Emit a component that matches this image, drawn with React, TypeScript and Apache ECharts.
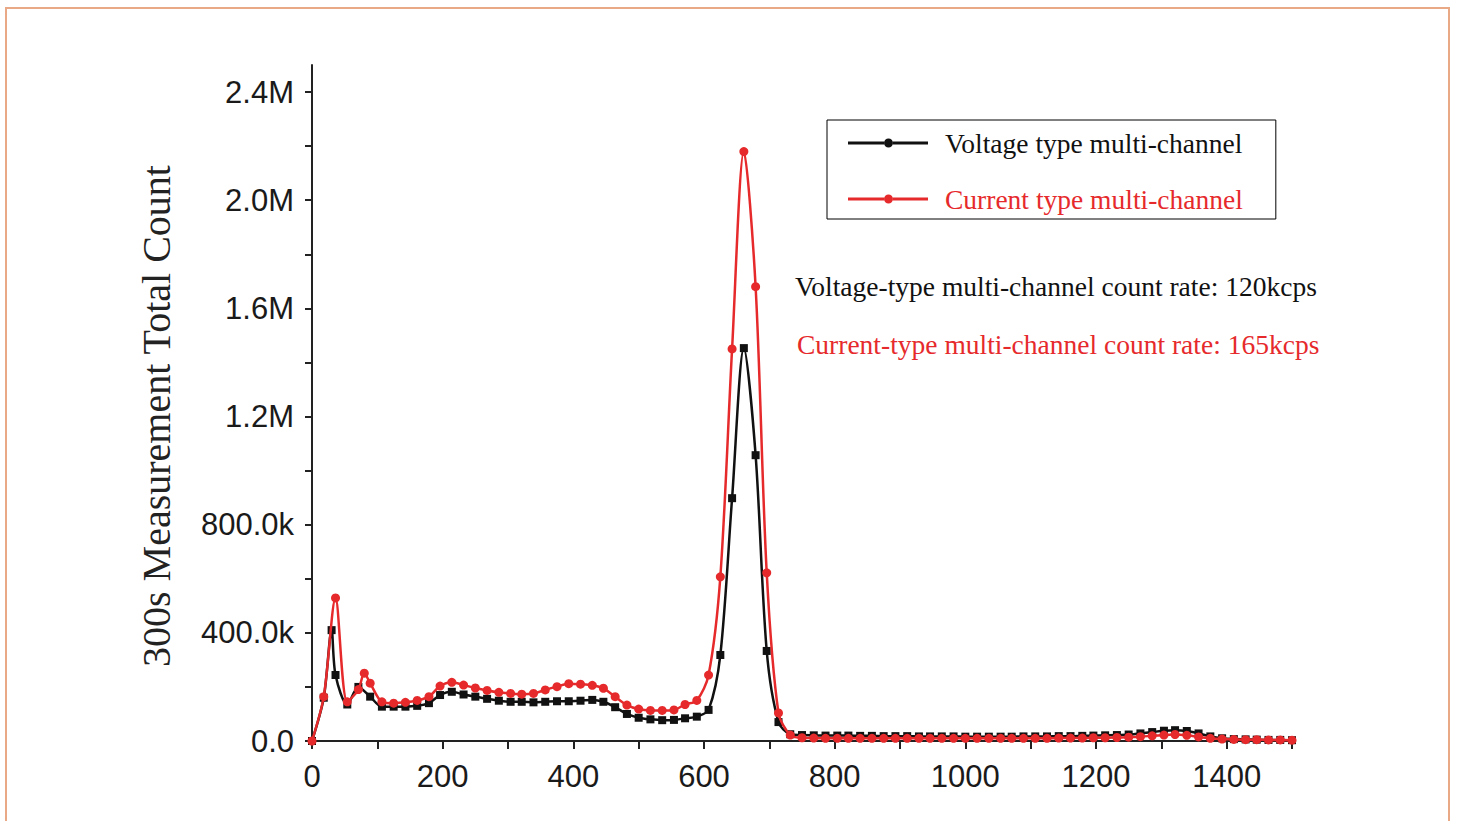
import React, { useEffect, useRef } from 'react';
import * as echarts from 'echarts';

// Channel positions (x) shared by both series
const channels = [
  0, 18, 30, 36, 54, 71, 80, 89,
  107, 125, 143, 161, 179, 196, 214, 232, 250, 268,
  286, 304, 321, 339, 357, 375, 393, 411, 429, 446,
  464, 482, 500, 518, 536, 554, 571, 589, 607, 625,
  643, 661, 679, 696, 714, 732,
  750, 768, 786, 804, 821, 839, 857, 875, 893, 911, 929, 946, 964, 982, 1000, 1018, 1036, 1054, 1071,
  1089, 1107, 1125, 1143, 1161, 1179, 1196, 1214, 1232, 1250, 1268, 1286, 1304, 1321, 1339, 1357, 1375, 1393, 1411, 1429, 1446, 1464, 1482, 1500,
];

// Counts in thousands (null = no sample for that series)
const voltageK: (number | null)[] = [
  0, 160, 410, 244, 135, 200, null, 164,
  127, 127, 127, 130, 140, 170, 182, 172, 164, 156,
  149, 145, 145, 143, 145, 147, 147, 149, 152, 145,
  125, 100, 86, 80, 77, 78, 84, 90, 115, 318,
  898, 1453, 1057, 333, 70, 25,
  22, 21, 20, 20, 20, 19, 19, 18, 18, 18, 17, 17, 17, 17, 16, 16, 16, 16, 16,
  17, 17, 17, 18, 18, 19, 20, 21, 22, 24, 28, 33, 38, 40, 37, 28, 17, 10, 7, 6, 5, 4, 4, 3,
];

const currentK: (number | null)[] = [
  0, 164, null, 529, 145, 190, 251, 214,
  145, 140, 143, 150, 164, 203, 217, 207, 196, 187,
  180, 176, 173, 176, 189, 201, 212, 210, 206, 195,
  164, 133, 118, 113, 113, 115, 135, 150, 244, 607,
  1450, 2180, 1680, 622, 104, 22,
  12, 11, 10, 10, 10, 10, 10, 10, 10, 10, 10, 10, 10, 10, 10, 10, 10, 10, 10,
  10, 10, 10, 11, 11, 11, 12, 12, 13, 14, 16, 19, 22, 24, 21, 15, 10, 7, 6, 5, 5, 4, 4, 3,
];

const xTickValues = [0, 100, 200, 300, 400, 500, 600, 700, 800, 900, 1000, 1100, 1200, 1300, 1400, 1500];
const xLabelValues = [0, 200, 400, 600, 800, 1000, 1200, 1400];
const yTickValues = [0, 200000, 400000, 600000, 800000, 1000000, 1200000, 1400000, 1600000, 1800000, 2000000, 2200000, 2400000];
const yLabelValues = [0, 400000, 800000, 1200000, 1600000, 2000000, 2400000];

const seriesNames = ['Voltage type multi-channel', 'Current type multi-channel'];
const notes = [
  'Voltage-type multi-channel count rate: 120kcps',
  'Current-type multi-channel count rate: 165kcps',
];
const yTitle = '300s Measurement Total Count';

const BLACK = '#111111';
const RED = '#e62a2c';
const SERIF = '"Times New Roman", "Liberation Serif", serif';
const SANS = '"Liberation Sans", Arial, sans-serif';

const legendIcon =
  'path://M0,9 L36,9 L36,12 L0,12 Z M45,9 L80,9 L80,12 L45,12 Z M36,10.5 A4.5,4.5 0 1 1 45,10.5 A4.5,4.5 0 1 1 36,10.5 Z';

function fmtY(v: number): string {
  if (v === 0) return '0.0';
  if (v < 1000000) return (v / 1000).toFixed(1) + 'k';
  return (v / 1000000).toFixed(1) + 'M';
}

export default function App() {
  const ref = useRef<HTMLDivElement>(null);
  useEffect(() => {
    if (!ref.current) return;
    const chart = echarts.init(ref.current, undefined, { renderer: 'svg' });
    const toData = (arr: (number | null)[]) =>
      channels.map((c, i) => [c, arr[i] == null ? '-' : (arr[i] as number) * 1000]);
    chart.setOption({
      animation: false,
      backgroundColor: '#ffffff',
      grid: { left: 312, right: 165, top: 65, bottom: 80, containLabel: false },
      xAxis: {
        type: 'value',
        min: 0,
        max: 1500,
        interval: 100,
        splitLine: { show: false },
        axisLine: { show: true, lineStyle: { color: '#222', width: 2 } },
        axisTick: { show: true, length: 8, lineStyle: { color: '#222', width: 2 }, customValues: xTickValues },
        axisLabel: {
          customValues: xLabelValues,
          margin: 20,
          fontFamily: SANS,
          fontSize: 31,
          color: '#1a1a1a',
          formatter: (v: number) => String(v),
        },
      },
      yAxis: {
        type: 'value',
        min: 0,
        max: 2500000,
        interval: 200000,
        splitLine: { show: false },
        axisLine: { show: true, lineStyle: { color: '#222', width: 2 } },
        axisTick: { show: true, length: 7, lineStyle: { color: '#222', width: 2 }, customValues: yTickValues },
        axisLabel: {
          customValues: yLabelValues,
          margin: 18,
          fontFamily: SANS,
          fontSize: 31,
          color: '#1a1a1a',
          formatter: (v: number) => fmtY(v),
        },
      },
      legend: {
        left: 827,
        top: 120,
        orient: 'vertical',
        selectedMode: false,
        itemWidth: 80,
        itemHeight: 9,
        itemGap: 26,
        padding: [8, 33, 5, 21],
        borderColor: '#000',
        borderWidth: 1,
        textStyle: { fontFamily: SERIF, fontSize: 27.5, color: BLACK, lineHeight: 30, padding: [0, 0, 0, 12] },
        data: [
          { name: seriesNames[0], icon: legendIcon, textStyle: { color: BLACK } },
          { name: seriesNames[1], icon: legendIcon, textStyle: { color: RED } },
        ],
      },
      graphic: [
        {
          type: 'rect',
          silent: true,
          shape: { x: 6, y: 8, width: 1443, height: 840 },
          style: { fill: 'none', stroke: '#eaa986', lineWidth: 2 },
        },
        {
          type: 'text',
          x: 156,
          y: 416,
          rotation: Math.PI / 2,
          style: { text: yTitle, font: '40px ' + SERIF, fill: '#222', align: 'center', verticalAlign: 'middle' },
        },
        {
          type: 'text',
          x: 795,
          y: 286,
          style: { text: notes[0], font: '27.5px ' + SERIF, fill: BLACK, align: 'left', verticalAlign: 'middle' },
        },
        {
          type: 'text',
          x: 797,
          y: 344,
          style: { text: notes[1], font: '27.5px ' + SERIF, fill: RED, align: 'left', verticalAlign: 'middle' },
        },
      ],
      series: [
        {
          name: seriesNames[0],
          type: 'line',
          data: toData(voltageK),
          connectNulls: true,
          smooth: 0.3,
          symbol: 'rect',
          symbolSize: 8,
          lineStyle: { color: BLACK, width: 2.5 },
          itemStyle: { color: BLACK },
          z: 2,
        },
        {
          name: seriesNames[1],
          type: 'line',
          data: toData(currentK),
          connectNulls: true,
          smooth: 0.3,
          symbol: 'circle',
          symbolSize: 9,
          lineStyle: { color: RED, width: 2.5 },
          itemStyle: { color: RED },
          z: 3,
        },
      ],
    });
    return () => chart.dispose();
  }, []);
  return (
    <div
      ref={ref}
      style={{ position: 'absolute', left: 0, top: 0, width: 1457, height: 821, background: '#fff' }}
    />
  );
}
